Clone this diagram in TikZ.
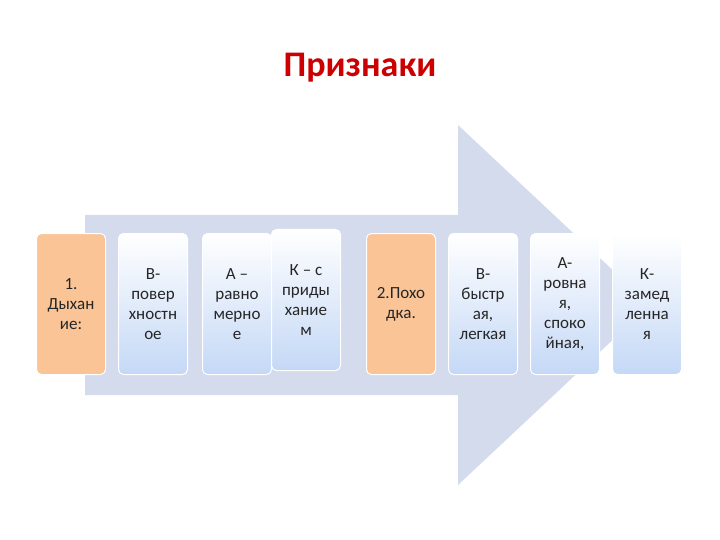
\documentclass[tikz,border=0pt]{standalone}
\usepackage{fontspec}
\setmainfont{Carlito}
\definecolor{arrowc}{RGB}{212,219,236}
\definecolor{boxb}{RGB}{196,216,246}
\definecolor{orc}{RGB}{250,196,150}
\begin{document}
\begin{tikzpicture}[x=1pt,y=-1pt,
  box/.style={rounded corners=5pt,draw=white,line width=1pt,minimum width=69pt,minimum height=141pt,align=center,font=\fontsize{17}{20}\selectfont,text=black!85},
  blue/.style={box,top color=white,bottom color=boxb},
  orng/.style={box,fill=orc}]
\useasboundingbox (0,0) rectangle (720,540);
\node[font=\fontsize{36}{38}\selectfont\bfseries,text=red!80!black] (t) at (360,68) {Признаки};
\fill[arrowc] (85,215) -- (458,215) -- (458,125) -- (650,305) -- (458,485) -- (458,395) -- (85,395) -- cycle;
\node[orng] (b1) at (71,304) {1.\\Дыхан\\ие:};
\node[blue] (b2) at (153,304) {В-\\повер\\хностн\\ое};
\node[blue] (b3) at (237,304) {А –\\равно\\мерно\\е};
\node[blue] (b4) at (306,300) {К – с\\приды\\хание\\м};
\node[orng] (b5) at (401,304) {2.Похо\\дка.};
\node[blue] (b6) at (483,304) {В-\\быстр\\ая,\\легкая};
\node[blue] (b7) at (565,304) {А-\\ровна\\я,\\споко\\йная,};
\node[blue] (b8) at (647,304) {К-\\замед\\ленна\\я};
\end{tikzpicture}
\end{document}
